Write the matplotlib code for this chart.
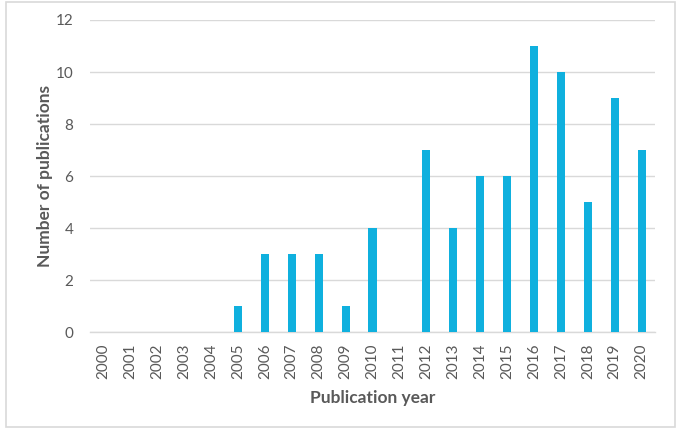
import matplotlib.pyplot as plt
from matplotlib.patches import Rectangle

years = [str(y) for y in range(2000, 2021)]
counts = [0, 0, 0, 0, 0, 1, 3, 3, 3, 1, 4, 0, 7, 4, 6, 6, 11, 10, 5, 9, 7]
y_ticks = [0, 2, 4, 6, 8, 10, 12]

plt.rcParams['font.family'] = ['Lato', 'DejaVu Sans']
text_gray = '#595959'

fig = plt.figure(figsize=(6.86, 4.44), dpi=100)
ax = fig.add_axes([0.131, 0.252, 0.824, 0.703])

fig.patches.append(Rectangle((0.009, 0.038), 0.975, 0.958, transform=fig.transFigure,
                             fill=False, edgecolor='#D9D9D9', linewidth=1.2))

x = range(len(years))
ax.bar(x, counts, width=0.3, color='#0FB0DE', zorder=3)

ax.set_xlim(-0.5, len(years) - 0.5)
ax.set_ylim(0, 12)
ax.set_yticks(y_ticks)
ax.set_xticks(list(x))
ax.set_xticklabels(years, rotation=90)
ax.tick_params(axis='both', length=0, colors=text_gray, labelsize=11)
ax.tick_params(axis='y', pad=12)
ax.tick_params(axis='x', pad=8)

ax.grid(axis='y', color='#D9D9D9', linewidth=1, zorder=0)
for s in ['top', 'right', 'left']:
    ax.spines[s].set_visible(False)
ax.spines['bottom'].set_color('#D9D9D9')
ax.spines['bottom'].set_linewidth(1)

ax.set_xlabel("Publication year", fontsize=12.5, fontweight='bold', color=text_gray, labelpad=8)
ax.set_ylabel("Number of publications", fontsize=12.5, fontweight='bold', color=text_gray, labelpad=2)

fig.savefig("out.png", dpi=100)
